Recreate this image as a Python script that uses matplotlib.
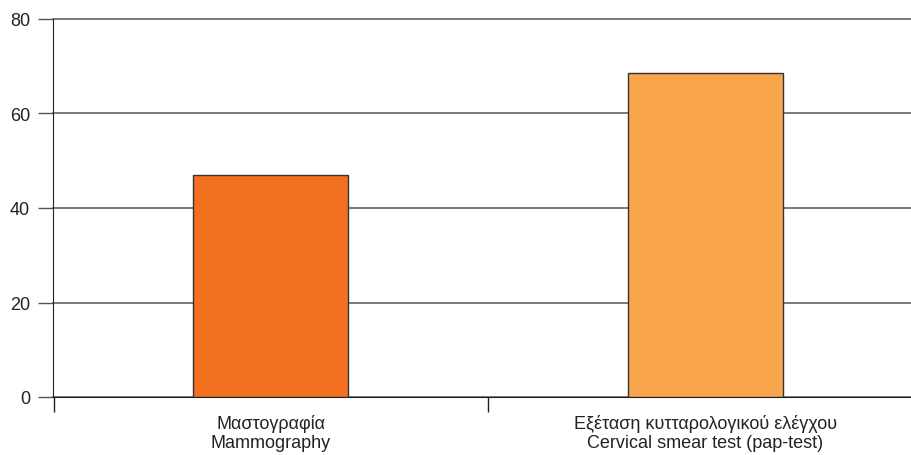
import matplotlib
matplotlib.use("Agg")
import matplotlib.pyplot as plt
import numpy as np

plt.rcParams['font.family'] = ['Liberation Sans', 'DejaVu Sans']

labels = ["Μαστογραφία\nMammography",
          "Εξέταση κυτταρολογικού ελέγχου\nCervical smear test (pap-test)"]
values = [47.0, 68.6]
colors = ["#F37021", "#F9A54B"]
yticks = [0, 20, 40, 60, 80]

fig = plt.figure(figsize=(9.12, 4.56), dpi=100)
ax = fig.add_axes([53.5 / 912, 58 / 456, 869 / 912, 378 / 456])

x = np.arange(len(values))
ax.bar(x, values, width=0.357, color=colors, edgecolor="#333333", linewidth=1.0, zorder=3)

ax.set_xlim(-0.5, 1.5)
ax.set_ylim(0, 80)
ax.set_yticks(yticks)
ax.yaxis.grid(True, color="#555555", linewidth=1.1, zorder=0)
ax.set_axisbelow(True)
for gl in ax.get_ygridlines():
    gl.set_clip_on(False)

ax.set_xticks(x)
ax.set_xticklabels(labels, fontsize=13, color="#222222", linespacing=1.2)
ax.tick_params(axis="x", which="major", length=0, pad=12)
ax.set_xticks([-0.5, 0.5], minor=True)
ax.tick_params(axis="x", which="minor", length=11, width=1, color="#222222", direction="out")
ax.tick_params(axis="y", length=11, width=1, color="#555555", labelsize=13, labelcolor="#222222", pad=6)

for s in ["top", "right"]:
    ax.spines[s].set_visible(False)
ax.spines["left"].set_color("#222222")
ax.spines["bottom"].set_color("#222222")

fig.savefig("out.png", dpi=100)
